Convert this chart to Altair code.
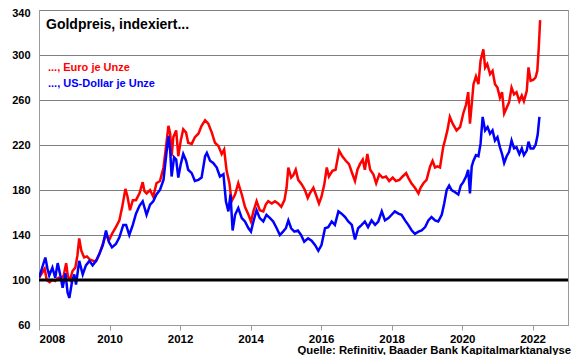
import altair as alt
import pandas as pd

# --- data ---
eur_years = [2008.00, 2008.08, 2008.16, 2008.22, 2008.30, 2008.38, 2008.46, 2008.55, 2008.62, 2008.70,
             2008.77, 2008.82, 2008.88, 2008.95, 2009.03, 2009.09, 2009.14, 2009.20, 2009.28, 2009.36,
             2009.45, 2009.55, 2009.62, 2009.71, 2009.81, 2009.90, 2009.98, 2010.07, 2010.18, 2010.28,
             2010.36, 2010.45, 2010.51, 2010.58, 2010.66, 2010.75, 2010.85, 2010.94, 2010.99, 2011.05,
             2011.15, 2011.24, 2011.33, 2011.43, 2011.53, 2011.60, 2011.67, 2011.72, 2011.76, 2011.81,
             2011.89, 2011.95, 2012.02, 2012.09, 2012.17, 2012.23, 2012.33, 2012.42, 2012.52, 2012.61,
             2012.71, 2012.80, 2012.90, 2012.99, 2013.09, 2013.18, 2013.25, 2013.32, 2013.40, 2013.46,
             2013.56, 2013.65, 2013.75, 2013.84, 2013.94, 2014.01, 2014.08, 2014.17, 2014.26, 2014.36,
             2014.43, 2014.50, 2014.60, 2014.69, 2014.78, 2014.87, 2014.96, 2015.02, 2015.07, 2015.15,
             2015.21, 2015.28, 2015.35, 2015.45, 2015.54, 2015.62, 2015.68, 2015.78, 2015.85, 2015.94,
             2016.01, 2016.09, 2016.16, 2016.22, 2016.32, 2016.41, 2016.51, 2016.60, 2016.70, 2016.79,
             2016.89, 2016.96, 2017.03, 2017.10, 2017.18, 2017.24, 2017.31, 2017.39, 2017.48, 2017.56,
             2017.65, 2017.74, 2017.84, 2017.93, 2018.03, 2018.12, 2018.22, 2018.31, 2018.41, 2018.47,
             2018.56, 2018.66, 2018.76, 2018.82, 2018.90, 2018.99, 2019.09, 2019.16, 2019.23, 2019.30,
             2019.37, 2019.46, 2019.51, 2019.58, 2019.65, 2019.73, 2019.84, 2019.94, 2020.03, 2020.11,
             2020.17, 2020.22, 2020.27, 2020.32, 2020.39, 2020.46, 2020.52, 2020.60, 2020.65, 2020.71,
             2020.79, 2020.86, 2020.93, 2021.00, 2021.07, 2021.13, 2021.19, 2021.26, 2021.33, 2021.40,
             2021.47, 2021.54, 2021.62, 2021.69, 2021.75, 2021.83, 2021.88, 2021.94, 2022.02, 2022.08,
             2022.13, 2022.17, 2022.21]
eur_values = [102, 106, 110, 100, 98, 100, 99, 102, 101, 104,
              115, 103, 100, 108, 111, 122, 137, 126, 120, 121,
              118, 117, 117, 123, 132, 141, 135, 141, 147, 153,
              165, 181, 174, 162, 171, 171, 177, 187, 179, 177,
              180, 174, 186, 188, 200, 218, 237, 230, 210, 227,
              233, 210, 224, 234, 231, 222, 221, 227, 230, 237,
              242, 239, 231, 222, 219, 212, 216, 197, 186, 170,
              176, 186, 176, 165, 158, 152, 161, 170, 162, 161,
              167, 170, 168, 170, 168, 165, 171, 182, 200, 191,
              193, 198, 189, 185, 180, 173, 177, 182, 176, 168,
              174, 185, 200, 192, 197, 198, 215, 210, 206, 203,
              194, 188, 198, 203, 207, 198, 212, 198, 194, 186,
              194, 191, 192, 188, 191, 188, 189, 192, 195, 191,
              186, 182, 177, 182, 186, 189, 201, 206, 200, 201,
              200, 218, 224, 233, 245, 239, 233, 236, 248, 256,
              267, 239, 256, 274, 281, 274, 295, 305, 289, 292,
              283, 286, 274, 271, 262, 267, 248, 253, 258, 271,
              265, 267, 259, 264, 259, 268, 289, 277, 278, 280,
              286, 306, 331]

usd_years = [2008.00, 2008.06, 2008.12, 2008.18, 2008.24, 2008.29, 2008.38, 2008.46, 2008.53, 2008.60,
             2008.67, 2008.75, 2008.81, 2008.86, 2008.94, 2009.00, 2009.05, 2009.14, 2009.24, 2009.33,
             2009.43, 2009.52, 2009.62, 2009.71, 2009.81, 2009.90, 2009.98, 2010.07, 2010.18, 2010.28,
             2010.39, 2010.47, 2010.56, 2010.66, 2010.75, 2010.85, 2010.94, 2011.05, 2011.15, 2011.24,
             2011.33, 2011.43, 2011.53, 2011.60, 2011.67, 2011.72, 2011.76, 2011.83, 2011.89, 2011.95,
             2012.02, 2012.09, 2012.17, 2012.23, 2012.33, 2012.42, 2012.52, 2012.61, 2012.71, 2012.76,
             2012.85, 2012.94, 2013.04, 2013.13, 2013.23, 2013.30, 2013.37, 2013.43, 2013.49, 2013.56,
             2013.65, 2013.75, 2013.84, 2013.94, 2014.01, 2014.08, 2014.17, 2014.26, 2014.36, 2014.45,
             2014.55, 2014.64, 2014.74, 2014.83, 2014.92, 2015.00, 2015.07, 2015.15, 2015.24, 2015.34,
             2015.43, 2015.52, 2015.63, 2015.73, 2015.83, 2015.92, 2016.01, 2016.11, 2016.20, 2016.30,
             2016.39, 2016.49, 2016.58, 2016.68, 2016.77, 2016.87, 2016.96, 2017.05, 2017.15, 2017.24,
             2017.33, 2017.43, 2017.53, 2017.62, 2017.72, 2017.81, 2017.91, 2018.00, 2018.09, 2018.19,
             2018.28, 2018.38, 2018.47, 2018.57, 2018.66, 2018.76, 2018.85, 2018.95, 2019.04, 2019.13,
             2019.23, 2019.32, 2019.42, 2019.49, 2019.56, 2019.63, 2019.70, 2019.80, 2019.89, 2019.96,
             2020.03, 2020.11, 2020.17, 2020.22, 2020.27, 2020.32, 2020.39, 2020.46, 2020.52, 2020.58,
             2020.65, 2020.72, 2020.79, 2020.86, 2020.93, 2021.00, 2021.07, 2021.13, 2021.19, 2021.26,
             2021.33, 2021.40, 2021.47, 2021.54, 2021.62, 2021.69, 2021.75, 2021.83, 2021.88, 2021.94,
             2022.02, 2022.08, 2022.14, 2022.19]
usd_values = [102, 108, 114, 120, 110, 104, 111, 102, 115, 105,
              93, 106, 89, 84, 99, 105, 96, 117, 105, 113,
              117, 113, 117, 123, 131, 144, 134, 129, 132, 138,
              149, 149, 140, 149, 159, 166, 170, 158, 167, 170,
              176, 180, 189, 209, 228, 215, 192, 209, 207, 191,
              203, 212, 206, 198, 195, 188, 189, 191, 210, 213,
              206, 204, 200, 192, 194, 170, 161, 176, 144, 158,
              164, 155, 152, 146, 143, 152, 162, 155, 152, 158,
              155, 152, 146, 140, 143, 146, 153, 146, 143, 144,
              140, 134, 137, 135, 131, 126, 131, 146, 147, 152,
              149, 161, 159, 156, 152, 149, 136, 146, 149, 152,
              147, 153, 149, 152, 161, 153, 155, 158, 161, 159,
              158, 153, 149, 144, 141, 143, 144, 147, 153, 156,
              153, 152, 158, 168, 180, 184, 180, 178, 176, 184,
              187, 192, 198, 177, 201, 206, 211, 210, 221, 245,
              233, 236, 230, 233, 224, 227, 218, 212, 204, 210,
              214, 224, 217, 218, 212, 217, 211, 215, 223, 217,
              217, 220, 229, 245]

y_ticks = [60, 100, 140, 180, 220, 260, 300, 340]
x_ticks = [2008, 2010, 2012, 2014, 2016, 2018, 2020, 2022]
baseline_value = [100]
title_text = ["Goldpreis, indexiert..."]
legend_eur = ["..., Euro je Unze"]
legend_usd = ["..., US-Dollar je Unze"]
source_text = ["Quelle: Refinitiv, Baader Bank Kapitalmarktanalyse"]

FONT = "Liberation Sans"
RED = "#ff0000"
BLUE = "#0000ff"

df_eur = pd.DataFrame({"Jahr": eur_years, "Index": eur_values})
df_usd = pd.DataFrame({"Jahr": usd_years, "Index": usd_values})

x_enc = alt.X(
    "Jahr:Q",
    scale=alt.Scale(domain=[2008, 2023], nice=False, zero=False),
    axis=alt.Axis(values=x_ticks, format="d", title=None, grid=False,
                  domainColor="#9a9a9a", tickColor="#9a9a9a", tickSize=5,
                  labelFont=FONT, labelFontWeight="bold", labelFontSize=11.5,
                  labelColor="#000000", labelPadding=3),
)
y_enc = alt.Y(
    "Index:Q",
    scale=alt.Scale(domain=[60, 340], nice=False, zero=False),
    axis=alt.Axis(values=y_ticks, title=None, grid=True, gridColor="#7f7f7f",
                  gridWidth=1, domainColor="#9a9a9a", ticks=False,
                  labelFont=FONT, labelFontWeight="bold", labelFontSize=11,
                  labelColor="#000000", labelPadding=9,
                  labelOffset=alt.ExprRef("datum.value == 340 ? 3 : 0")),
)

eur_line = alt.Chart(df_eur).mark_line(color=RED, strokeWidth=2.5, clip=True).encode(x=x_enc, y=y_enc)
usd_line = alt.Chart(df_usd).mark_line(color=BLUE, strokeWidth=2.5, clip=True).encode(
    x=alt.X("Jahr:Q"), y=alt.Y("Index:Q"))

base_rule = alt.Chart(pd.DataFrame({"v": baseline_value})).mark_rule(
    color="#000000", strokeWidth=3).encode(y="v:Q")


def text_layer(txt, x, y, color="#000000", size=11, align="left"):
    return alt.Chart(pd.DataFrame({"t": txt})).mark_text(
        font=FONT, fontWeight="bold", fontSize=size, color=color,
        align=align, baseline="alphabetic").encode(
        text="t:N", x=alt.value(x), y=alt.value(y))


title_l = text_layer(title_text, 7, 19, size=14)
eur_l = text_layer(legend_eur, 9, 61, color=RED, size=11)
usd_l = text_layer(legend_usd, 9, 77, color=BLUE, size=11)
src_l = text_layer(source_text, 532, 344, size=11.3, align="right")

chart = alt.layer(eur_line, usd_line, base_rule, title_l, eur_l, usd_l, src_l).properties(
    width=529, height=315,
    autosize=alt.AutoSizeParams(type="none"),
    padding={"left": 31, "top": 2, "right": 4, "bottom": 30},
    background="#ffffff",
).configure_view(stroke="#9a9a9a", strokeWidth=1)

chart.save("out.html", embed_options={"renderer": "svg", "actions": False})
